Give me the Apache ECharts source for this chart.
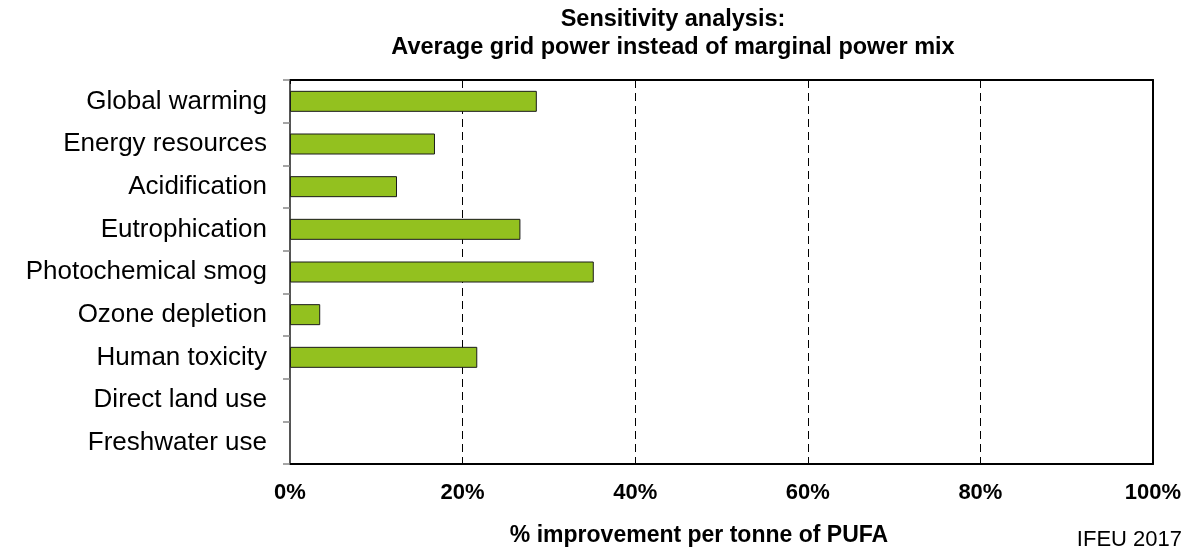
<!DOCTYPE html>
<html><head><meta charset="utf-8">
<script src="https://cdn.jsdelivr.net/npm/echarts@6/dist/echarts.min.js"></script>
<style>html,body{margin:0;padding:0;background:#fff}#c{width:1192px;height:554px}</style>
</head><body><div id="c"></div>
<script>
const categories = ["Global warming","Energy resources","Acidification","Eutrophication","Photochemical smog","Ozone depletion","Human toxicity","Direct land use","Freshwater use"];
const values = [28.6, 16.8, 12.4, 26.7, 35.2, 3.5, 21.7, 0, 0];
const xTicks = [0, 20, 40, 60, 80, 100];
const titleLines = ["Sensitivity analysis:", "Average grid power instead of marginal power mix"];
const axisName = "% improvement per tonne of PUFA";
const credit = "IFEU 2017";

const FONT = "Liberation Sans, Arial, sans-serif";
const chart = echarts.init(document.getElementById('c'), null, {renderer:'canvas'});
chart.setOption({
  animation:false,
  backgroundColor:'#fff',
  title:{text:titleLines.join('\n'), left:668, top:1, textAlign:'center',
    textStyle:{fontFamily:FONT, fontSize:23.5, fontWeight:'bold', color:'#000', lineHeight:28}},
  graphic:[{type:'text', right:10, top:529, style:{text:credit, font:'22px '+FONT, fill:'#000'}}],
  grid:{left:290, top:80, right:39, bottom:90, containLabel:false},
  xAxis:[{
    type:'value', min:xTicks[0], max:xTicks[xTicks.length-1], interval:20, position:'bottom',
    name:axisName, nameLocation:'middle', nameGap:60,
    nameTextStyle:{fontFamily:FONT, fontSize:23, fontWeight:'bold', color:'#000', padding:[0,45,0,0]},
    axisLine:{show:true, lineStyle:{color:'#000', width:2}},
    axisTick:{show:false},
    axisLabel:{formatter:v=>v+'%', fontFamily:FONT, fontSize:22, fontWeight:'bold', color:'#000', margin:18},
    splitLine:{show:true, lineStyle:{color:'#000', type:[8,5], width:1}}
  },{
    type:'value', min:xTicks[0], max:xTicks[xTicks.length-1], interval:20, position:'top',
    axisLine:{show:true, onZero:false, lineStyle:{color:'#000', width:2}},
    axisTick:{show:true, inside:true, length:4, lineStyle:{color:'#000'}},
    axisLabel:{show:false}, splitLine:{show:false}
  }],
  yAxis:[{
    type:'category', data:categories, inverse:true,
    axisLine:{show:true, onZero:false, lineStyle:{color:'#555', width:2}},
    axisTick:{show:true, length:7, lineStyle:{color:'#888', width:1.5}},
    axisLabel:{fontFamily:FONT, fontSize:26, color:'#000', margin:23}
  },{
    type:'category', data:categories, inverse:true, position:'right',
    axisLine:{show:true, onZero:false, lineStyle:{color:'#000', width:2}},
    axisTick:{show:false}, axisLabel:{show:false}
  }],
  series:[{
    type:'bar', barWidth:21,
    data:values.map(v => v === 0 ? {value:v, itemStyle:{borderWidth:0}} : v),
    itemStyle:{color:'#93C11F', borderColor:'#1a1a1a', borderWidth:1}
  }]
});
</script></body></html>
